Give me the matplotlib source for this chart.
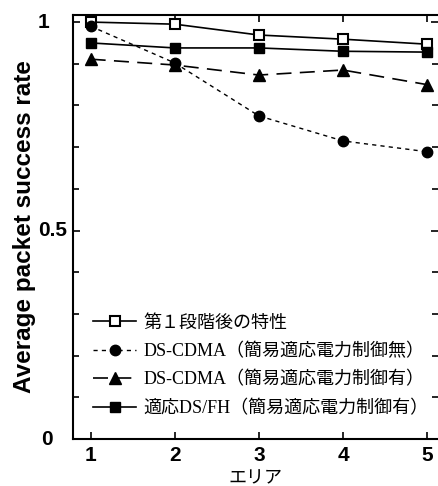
import matplotlib.pyplot as plt
from matplotlib.ticker import MultipleLocator

plt.rcParams['font.family'] = ['Liberation Serif', 'Noto Sans CJK JP']

# === data ===
area = [1, 2, 3, 4, 5]
first_stage = [1.0, 0.995, 0.969, 0.959, 0.947]
ds_cdma_no_ctrl = [0.99, 0.902, 0.775, 0.715, 0.689]
ds_cdma_ctrl = [0.911, 0.897, 0.873, 0.885, 0.85]
ds_fh_ctrl = [0.95, 0.938, 0.938, 0.93, 0.928]

y_ticks = [0, 0.5, 1]
y_ticklabels = ['0', '0.5', '1']

labels = ["第１段階後の特性",
          "DS-CDMA（簡易適応電力制御無）",
          "DS-CDMA（簡易適応電力制御有）",
          "適応DS/FH（簡易適応電力制御有）"]

fig = plt.figure(figsize=(4.39, 4.86), dpi=100)
ax = fig.add_axes([73 / 439, 47 / 486, 365 / 439, 424 / 486])

ax.plot(area, first_stage, color='black', lw=1.2, marker='s', ms=7.5,
        mfc='white', mec='black', mew=1.5, label=labels[0])
ax.plot(area, ds_cdma_no_ctrl, color='black', lw=1.0, ls=(0, (3, 3)),
        marker='o', ms=7.5, mfc='black', mec='black', label=labels[1])
ax.plot(area, ds_cdma_ctrl, color='black', lw=1.2, ls=(0, (9, 5)),
        marker='^', ms=8.5, mfc='black', mec='black', label=labels[2])
ax.plot(area, ds_fh_ctrl, color='black', lw=1.2, marker='s', ms=7.5,
        mfc='black', mec='black', label=labels[3])

ax.set_xlim(0.79, 5.13)
ax.set_ylim(0, 1.017)
ax.set_xticks(area)
ax.set_yticks(y_ticks)
ax.set_yticklabels([])
ax.yaxis.set_minor_locator(MultipleLocator(0.1))
ax.tick_params(which='both', direction='in', top=True, right=True,
               labelsize=15, width=1.2)
ax.tick_params(which='major', length=5)
ax.tick_params(which='minor', length=4)
ax.tick_params(axis='x', pad=5)
for lab in ax.get_xticklabels():
    lab.set_family('Liberation Sans')
    lab.set_fontweight('bold')

# y tick labels sit at uneven offsets in the original
ytr = ax.get_yaxis_transform()
y_label_x = {'0': -0.071, '0.5': -0.057, '1': -0.08}
for v, t in zip(y_ticks, y_ticklabels):
    ax.text(y_label_x[t], v, t, transform=ytr, ha='center', va='center',
            fontsize=15, family='Liberation Sans', fontweight='bold')

ax.spines['right'].set_visible(False)
for s in ['left', 'bottom', 'top']:
    ax.spines[s].set_linewidth(1.5)

ax.set_ylabel("Average packet success rate", fontsize=17.5,
              family='Liberation Sans', fontweight='bold')
ax.yaxis.set_label_coords(-0.1, 0.5)
ax.set_xlabel("エリア", fontsize=13, labelpad=3, family='Noto Sans CJK JP')

ax.legend(loc='lower left', bbox_to_anchor=(0.035, 0.035), frameon=False,
          fontsize=13, handlelength=2.4, handletextpad=0.4,
          labelspacing=0.62, borderaxespad=0)

plt.savefig("out.png", dpi=100)
